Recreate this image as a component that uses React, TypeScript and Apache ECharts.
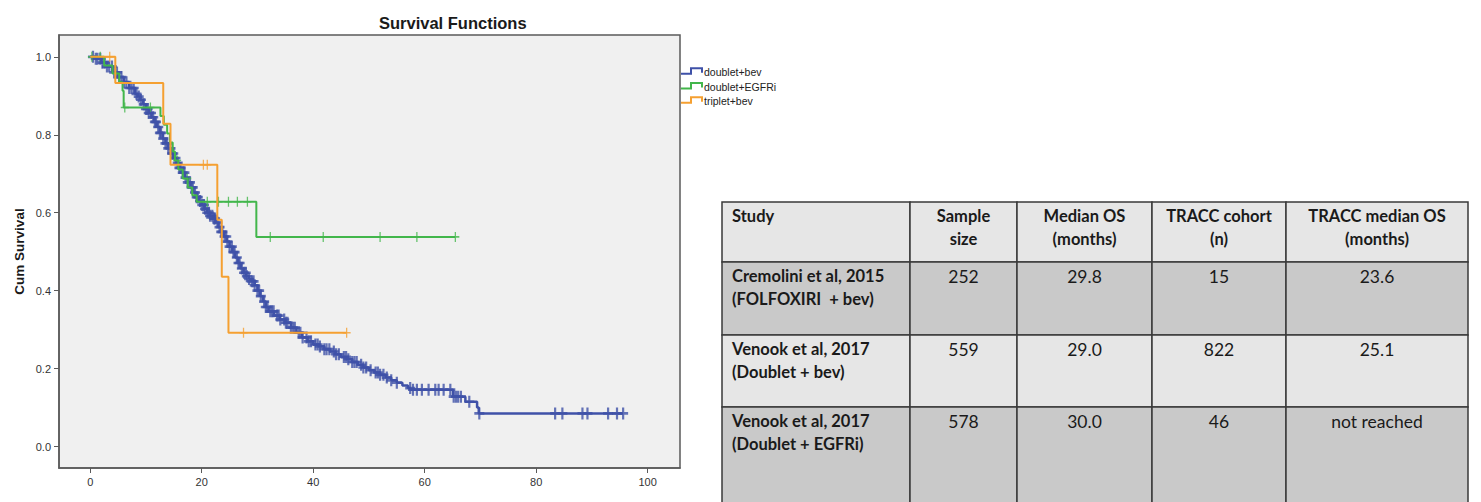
import React, { useEffect, useRef } from "react";
import * as echarts from "echarts";

// ---------------- data ----------------
const seriesNames = ["doublet+bev", "doublet+EGFRi", "triplet+bev"];
const seriesColors = ["#3f51a8", "#42b64b", "#f5a031"];

// Kaplan-Meier step points [months, cumulative survival]
const bevCurve: number[][] = [
  [0, 1], [1, 0.995], [2, 0.985], [3, 0.975], [4, 0.96], [5, 0.948], [6, 0.935], [7, 0.92], [8, 0.905],
  [8.5, 0.898], [9, 0.89], [9.5, 0.878], [10, 0.866], [10.5, 0.856], [11, 0.845], [11.5, 0.833], [12, 0.82],
  [12.5, 0.805], [13, 0.79], [13.5, 0.778], [14, 0.765], [14.5, 0.752], [15, 0.74], [15.5, 0.728], [16, 0.715],
  [16.5, 0.703], [17, 0.69], [17.5, 0.678], [18, 0.665], [18.5, 0.652], [19, 0.64], [19.5, 0.63], [20, 0.62],
  [20.5, 0.61], [21, 0.6], [21.5, 0.592], [22, 0.585], [22.5, 0.575], [23, 0.563], [23.5, 0.551], [24, 0.539],
  [24.5, 0.526], [25, 0.513], [25.5, 0.499], [26, 0.485], [26.5, 0.471], [27, 0.457], [27.5, 0.446], [28, 0.437],
  [28.5, 0.43], [29, 0.424], [29.5, 0.414], [30, 0.4], [30.5, 0.386], [31, 0.372], [31.5, 0.358], [32, 0.347],
  [33, 0.336], [34, 0.326], [35, 0.318], [36, 0.305], [37, 0.292], [38, 0.28], [39, 0.27], [40, 0.262],
  [41, 0.257], [42, 0.25], [43, 0.244], [44, 0.237], [45, 0.23], [46, 0.224], [47, 0.217], [48, 0.21],
  [49, 0.203], [50, 0.196], [51, 0.19], [52, 0.184], [53, 0.177], [54, 0.17], [55, 0.164], [56, 0.157],
  [57, 0.15], [57.5, 0.146], [65.1, 0.128], [67.3, 0.115], [69.4, 0.1], [69.7, 0.085], [95.6, 0.085],
];
const bevCensored: number[] = [
  0.5, 1, 1.3, 1.8, 2.2, 2.6, 3, 3.4, 3.9, 4.3, 4.8, 5.2, 5.6, 6.1, 6.5, 7, 7.4, 7.8, 8.3, 8.7, 9.1, 9.6,
  10, 10.3, 10.5, 10.9, 11.3, 11.6, 11.8, 12.2, 12.5, 12.7, 13.1, 13.5, 13.8, 14, 14.4, 14.7, 14.9, 15.3,
  15.7, 16, 16.2, 16.6, 16.9, 17.1, 17.5, 17.9, 18.2, 18.4, 18.8, 19.1, 19.3, 19.7, 20.1, 20.4, 20.6, 21,
  21.3, 21.5, 21.9, 22.2, 22.4, 22.8, 23.2, 23.5, 23.7, 24.1, 24.4, 24.6, 25, 25.4, 25.7, 25.9, 26.3, 26.6,
  26.8, 27.2, 27.6, 27.9, 28.1, 28.5, 29, 29.3, 29.5, 30, 30.3, 30.6, 31.2, 31.5, 31.8, 32.3, 32.6, 32.9,
  33.5, 33.8, 34.1, 34.8, 35.1, 35.4, 36, 36.4, 36.7, 37.4, 37.7, 38.1, 38.8, 39.2, 39.6, 40.4, 40.8, 41.2,
  42, 42.4, 42.9, 43.7, 44.1, 44.6, 45.5, 45.9, 46.3, 47, 47.4, 47.8, 48.6, 49, 49.5, 50.3, 51.2, 51.6, 52,
  52.6, 53.2, 54, 55, 57.4, 57.9, 58.6, 59.5, 60.7, 61.9, 62.5, 63.4, 64.6, 65.2, 65.6, 66, 66.5, 68, 69.8,
  83.4, 84.7, 88.3, 89.2, 92.9, 94.5, 95.6,
];

const egfrCurve: number[][] = [
  [0, 1], [2.5, 0.978], [4, 0.957], [5.2, 0.935], [5.8, 0.913], [6, 0.87], [12.6, 0.848], [13.2, 0.826],
  [13.8, 0.803], [14.3, 0.78], [14.8, 0.757], [15.2, 0.734], [15.8, 0.711], [16.6, 0.688], [17.5, 0.665],
  [18.3, 0.645], [19.1, 0.628], [29.8, 0.538], [65.5, 0.538],
];
const egfrCensored: number[] = [0.3, 1.8, 6.2, 10.8, 15.6, 17.4, 21, 23, 24.8, 26.4, 28.2, 32.3, 41.8, 52, 58.6, 65.5];

const tripCurve: number[][] = [
  [0, 1], [4.5, 0.933], [13.1, 0.828], [14.4, 0.723], [22.8, 0.582], [23.6, 0.436], [24.8, 0.292], [46, 0.292],
];
const tripCensored: number[] = [3.5, 20.3, 21, 27.5, 46];

const xTicks = [0, 20, 40, 60, 80, 100];
const yTicks = [0, 0.2, 0.4, 0.6, 0.8, 1.0];

// table
const tableHeader: string[][] = [
  ["Study"],
  ["Sample", "size"],
  ["Median OS", "(months)"],
  ["TRACC cohort", "(n)"],
  ["TRACC median OS", "(months)"],
];
const studies: string[][] = [
  ["Cremolini et al, 2015", "(FOLFOXIRI  + bev)"],
  ["Venook et al, 2017", "(Doublet + bev)"],
  ["Venook et al, 2017", "(Doublet + EGFRi)"],
];
const sampleSize = ["252", "559", "578"];
const medianOS = ["29.8", "29.0", "30.0"];
const traccCohort = ["15", "822", "46"];
const traccMedianOS = ["23.6", "25.1", "not reached"];

// ---------------- helpers ----------------
const survAt = (curve: number[][], t: number) => {
  let s = curve[0][1];
  for (const p of curve) {
    if (p[0] <= t) s = p[1];
    else break;
  }
  return s;
};

const PLUS = "path://M4.2,0H5.8V4.2H10V5.8H5.8V10H4.2V5.8H0V4.2H4.2Z";
const PLUS_BOLD = "path://M3.9,0H6.1V3.9H10V6.1H6.1V10H3.9V6.1H0V3.9H3.9Z";
const ARIAL = '"Liberation Sans", Arial, sans-serif';
const TABLE_FONT = 'Lato, "Open Sans", sans-serif';

export default function App() {
  const ref = useRef<HTMLDivElement>(null);

  useEffect(() => {
    if (!ref.current) return;
    const chart = echarts.init(ref.current, undefined, { renderer: "svg" });

    const curves = [bevCurve, egfrCurve, tripCurve];
    const censors = [bevCensored, egfrCensored, tripCensored];
    const markSizes = [[10, 12], [8, 10], [8, 10]];
    const markPaths = [PLUS_BOLD, PLUS, PLUS];

    const series: any[] = [];
    curves.forEach((c, i) => {
      series.push({
        name: seriesNames[i],
        type: "line",
        step: "end",
        symbol: "none",
        data: c,
        lineStyle: { color: seriesColors[i], width: i === 0 ? 2.5 : 2 },
        itemStyle: { color: seriesColors[i] },
        silent: true,
      });
      series.push({
        name: seriesNames[i] + " censored",
        type: "scatter",
        symbol: markPaths[i],
        symbolSize: markSizes[i],
        data: censors[i].map((t) => [t, survAt(c, t)]),
        itemStyle: { color: seriesColors[i] },
        silent: true,
      });
    });

    // table graphic
    const colEdges = [722, 910, 1017, 1152, 1286, 1468];
    const rowEdges = [202, 262, 335, 407, 530];
    const rowFills = ["#e6e6e6", "#c9c9c9", "#e6e6e6", "#c9c9c9"];
    const tableEls: any[] = [];
    for (let r = 0; r < 4; r++) {
      for (let c = 0; c < 5; c++) {
        tableEls.push({
          type: "rect",
          shape: {
            x: colEdges[c],
            y: rowEdges[r],
            width: colEdges[c + 1] - colEdges[c],
            height: rowEdges[r + 1] - rowEdges[r],
          },
          style: { fill: rowFills[r], stroke: "#3a3a3a", lineWidth: 1.5 },
          silent: true,
        });
      }
    }
    const addCell = (lines: string[], c: number, r: number, bold: boolean) => {
      lines.forEach((txt, li) => {
        const left = c === 0;
        tableEls.push({
          type: "text",
          x: left ? colEdges[0] + 10 : (colEdges[c] + colEdges[c + 1]) / 2,
          y: rowEdges[r] + 14 + li * 22.5,
          style: {
            text: txt,
            fill: "#1a1a1a",
            font: bold ? `bold 16.5px ${TABLE_FONT}` : `17.5px ${TABLE_FONT}`,
            align: left ? "left" : "center",
            verticalAlign: "middle",
          },
          silent: true,
        });
      });
    };
    tableHeader.forEach((h, c) => addCell(h, c, 0, true));
    studies.forEach((s, r) => {
      addCell(s, 0, r + 1, true);
      addCell([sampleSize[r]], 1, r + 1, false);
      addCell([medianOS[r]], 2, r + 1, false);
      addCell([traccCohort[r]], 3, r + 1, false);
      addCell([traccMedianOS[r]], 4, r + 1, false);
    });

    // legend graphic
    const legendY = [71.7, 86.5, 100.7];
    const legendEls: any[] = [];
    seriesNames.forEach((n, i) => {
      const cy = legendY[i];
      legendEls.push({
        type: "polyline",
        shape: {
          points: [
            [681, cy + 2],
            [691, cy + 2],
            [691, cy - 3.5],
            [702, cy - 3.5],
            [702, cy + 1],
          ],
        },
        style: { stroke: seriesColors[i], lineWidth: 2, fill: "none" },
        silent: true,
      });
      legendEls.push({
        type: "text",
        x: 704,
        y: cy,
        style: {
          text: n,
          fill: "#222",
          font: `10.5px ${ARIAL}`,
          align: "left",
          verticalAlign: "middle",
        },
        silent: true,
      });
    });

    const option: any = {
      animation: false,
      backgroundColor: "#ffffff",
      title: {
        text: "Survival Functions",
        left: 374,
        top: 9,
        textStyle: { fontFamily: ARIAL, fontSize: 16.5, fontWeight: "bold", color: "#1a1a1a" },
      },
      grid: {
        left: 59,
        top: 35,
        width: 621,
        height: 433,
        show: true,
        backgroundColor: "#f0f0f0",
        borderColor: "#5a5a5a",
        borderWidth: 1.5,
        outerBoundsMode: "none",
        containLabel: false,
      },
      xAxis: {
        type: "value",
        min: -5.6,
        max: 105.8,
        splitLine: { show: false },
        axisLine: { show: true, onZero: false, lineStyle: { color: "#5a5a5a", width: 1.5 } },
        axisTick: { show: true, length: 5, customValues: xTicks, lineStyle: { color: "#5a5a5a", width: 1 } },
        axisLabel: {
          customValues: xTicks,
          margin: 8,
          fontFamily: ARIAL,
          fontSize: 11,
          color: "#333",
        },
      },
      yAxis: {
        type: "value",
        min: -0.055,
        max: 1.056,
        name: "Cum Survival",
        nameLocation: "middle",
        nameGap: 33,
        nameRotate: 90,
        nameTextStyle: { fontFamily: ARIAL, fontSize: 13.5, fontWeight: "bold", color: "#1a1a1a" },
        splitLine: { show: false },
        axisLine: { show: true, onZero: false, lineStyle: { color: "#5a5a5a", width: 1.5 } },
        axisTick: { show: true, length: 5, customValues: yTicks, lineStyle: { color: "#5a5a5a", width: 1 } },
        axisLabel: {
          customValues: yTicks,
          margin: 8,
          fontFamily: ARIAL,
          fontSize: 11,
          color: "#333",
          formatter: (v: number) => v.toFixed(1),
        },
      },
      series,
      graphic: [...legendEls, ...tableEls],
    };

    chart.setOption(option);
    return () => chart.dispose();
  }, []);

  return (
    <div
      ref={ref}
      style={{ position: "absolute", left: 0, top: 0, width: 1481, height: 502 }}
    />
  );
}
